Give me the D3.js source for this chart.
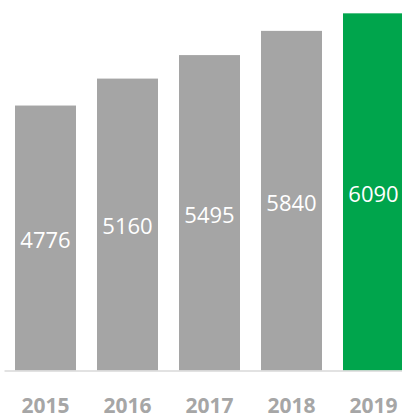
<!DOCTYPE html>
<html>
<head>
<meta charset="utf-8">
<script src="https://cdn.jsdelivr.net/npm/d3@7"></script>
<style>
  html, body { margin: 0; padding: 0; background: #fff; overflow: hidden; }
  svg { display: block; }
  .value { font-family: "Open Sans", sans-serif; font-size: 22px; fill: #fff; }
  .year { font-family: "Open Sans", sans-serif; font-weight: bold; font-size: 21px; fill: #a6a6a6; }
</style>
</head>
<body>
<svg id="chart" width="402" height="417"></svg>
<script>
// chart data
var years = ['2015', '2016', '2017', '2018', '2019'];
var values = [4776, 5160, 5495, 5840, 6090];
var highlightYear = '2019';

var svg = d3.select('#chart');
var baseline = 370.5;

var x = d3.scaleBand()
    .domain(years)
    .range([4.5, 414.5])
    .paddingInner(0.256)
    .paddingOuter(0.128);

// value axis does not start at zero in the original
var y = d3.scaleLinear()
    .domain([1000, 6280])
    .range([baseline, 0]);

var rows = years.map(function (yr, i) { return { year: yr, value: values[i] }; });

svg.selectAll('rect.bar')
    .data(rows)
    .enter().append('rect')
    .attr('class', 'bar')
    .attr('x', function (d) { return x(d.year); })
    .attr('y', function (d) { return y(d.value); })
    .attr('width', x.bandwidth())
    .attr('height', function (d) { return baseline - y(d.value); })
    .attr('fill', function (d) { return d.year === highlightYear ? '#00a54c' : '#a5a5a5'; });

// baseline
svg.append('line')
    .attr('x1', x.range()[0])
    .attr('x2', 402)
    .attr('y1', baseline + 0.5)
    .attr('y2', baseline + 0.5)
    .attr('stroke', '#d9d9d9')
    .attr('stroke-width', 1.5);

// values, centred inside each bar
svg.selectAll('text.value')
    .data(rows)
    .enter().append('text')
    .attr('class', 'value')
    .attr('x', function (d) { return x(d.year) + x.bandwidth() / 2; })
    .attr('y', function (d) { return (y(d.value) + baseline) / 2 + 4; })
    .attr('text-anchor', 'middle')
    .attr('dominant-baseline', 'middle')
    .text(function (d) { return d.value; });

// year labels
var xAxis = d3.axisBottom(x).tickSize(0).tickPadding(0);
var g = svg.append('g')
    .attr('transform', 'translate(0,' + baseline + ')')
    .call(xAxis);
g.select('.domain').remove();
g.selectAll('text')
    .attr('class', 'year')
    .attr('dy', null)
    .attr('y', 42)
    .attr('font-family', null)
    .attr('font-size', null)
    .attr('fill', null);
</script>
</body>
</html>
